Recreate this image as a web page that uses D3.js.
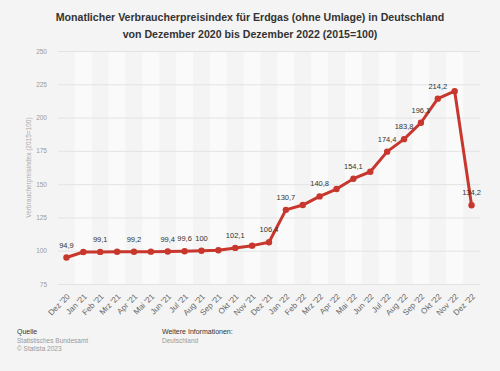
<!DOCTYPE html>
<html>
<head>
<meta charset="utf-8">
<script src="https://cdn.jsdelivr.net/npm/d3@7"></script>
<style>
  html, body { margin: 0; padding: 0; background: #f4f4f4; }
  svg { display: block; font-family: "Liberation Sans", Arial, sans-serif; }
</style>
</head>
<body>
<div id="chart"></div>
<script>
var months = ["Dez '20", "Jan '21", "Feb '21", "Mrz '21", "Apr '21", "Mai '21", "Jun '21", "Jul '21",
    "Aug '21", "Sep '21", "Okt '21", "Nov '21", "Dez '21", "Jan '22", "Feb '22", "Mrz '22",
    "Apr '22", "Mai '22", "Jun '22", "Jul '22", "Aug '22", "Sep '22", "Okt '22", "Nov '22", "Dez '22"];
var values = [94.9, 99.0, 99.1, 99.2, 99.2, 99.3, 99.4, 99.6, 100, 100.3, 102.1, 103.8, 106.4,
    130.7, 134.3, 140.8, 146.3, 154.1, 159.3, 174.4, 183.8, 196.1, 214.2, 219.8, 134.2];
// which points get a value label
var labelled = [0, 2, 4, 6, 7, 8, 10, 12, 13, 15, 17, 19, 20, 21, 22, 24];
var yTicks = [75, 100, 125, 150, 175, 200, 225, 250];

var width = 500, height = 371;
var mLeft = 58, mRight = 480, mTop = 51, mBottom = 284;

var svg = d3.select('#chart').append('svg')
    .attr('width', width)
    .attr('height', height);

svg.append('rect')
    .attr('width', width)
    .attr('height', height)
    .attr('fill', '#f4f4f4');

var x = d3.scaleBand()
    .domain(months)
    .range([mLeft, mRight]);

var y = d3.scaleLinear()
    .domain([75, 250])
    .range([mBottom, mTop]);

// stripes
svg.append('g').selectAll('rect')
    .data(months.filter(function (d, i) { return i % 2 === 1; }))
    .enter()
    .append('rect')
    .attr('x', function (d) { return x(d); })
    .attr('y', mTop)
    .attr('width', x.bandwidth())
    .attr('height', mBottom - mTop)
    .attr('fill', '#fafafa');

// grid + y labels
var yAxis = svg.append('g')
    .attr('transform', 'translate(' + mLeft + ',0)')
    .call(d3.axisLeft(y).tickValues(yTicks).tickSize(-(mRight - mLeft)).tickPadding(11));
yAxis.select('.domain').remove();
yAxis.selectAll('.tick line')
    .attr('stroke', '#e3e3e3')
    .attr('stroke-width', 1);
yAxis.selectAll('.tick text')
    .attr('fill', '#9a9a9a')
    .style('font-size', '6.5px');

svg.append('text')
    .attr('transform', 'translate(29,' + ((mTop + mBottom) / 2) + ') rotate(-90)')
    .attr('text-anchor', 'middle')
    .attr('dy', '0.35em')
    .attr('fill', '#aaa')
    .style('font-size', '6.5px')
    .text('Verbraucherpreisindex (2015=100)');

// x labels
var xAxis = svg.append('g')
    .attr('transform', 'translate(0,' + mBottom + ')')
    .call(d3.axisBottom(x).tickSize(0).tickPadding(0));
xAxis.select('.domain').remove();
xAxis.selectAll('.tick text')
    .attr('text-anchor', 'end')
    .attr('fill', '#666')
    .style('font-size', '8px')
    .attr('y', 0)
    .attr('dy', '0.35em')
    .attr('transform', 'translate(2,11) rotate(-45)');

var cx = function (d, i) { return x(months[i]) + x.bandwidth() / 2; };

var line = d3.line()
    .x(cx)
    .y(function (d) { return y(d); });

svg.append('path')
    .datum(values)
    .attr('d', line)
    .attr('fill', 'none')
    .attr('stroke', '#c8372d')
    .attr('stroke-width', 3)
    .attr('stroke-linejoin', 'round');

svg.append('g').selectAll('circle')
    .data(values)
    .enter()
    .append('circle')
    .attr('cx', cx)
    .attr('cy', function (d) { return y(d); })
    .attr('r', 3.2)
    .attr('fill', '#c8372d');

svg.append('g').selectAll('text')
    .data(labelled)
    .enter()
    .append('text')
    .attr('x', function (i) { return x(months[i]) + x.bandwidth() / 2; })
    .attr('y', function (i) { return y(values[i]) - 10; })
    .attr('text-anchor', 'middle')
    .attr('fill', '#333')
    .style('font-size', '7.5px')
    .text(function (i) { return String(values[i]).replace('.', ','); });

// title
var title = svg.append('g')
    .attr('text-anchor', 'middle')
    .attr('fill', '#333')
    .style('font-size', '10.6px')
    .style('font-weight', 'bold');
title.append('text').attr('x', 250).attr('y', 21)
    .text('Monatlicher Verbraucherpreisindex für Erdgas (ohne Umlage) in Deutschland');
title.append('text').attr('x', 250).attr('y', 38)
    .text('von Dezember 2020 bis Dezember 2022 (2015=100)');

// footer
var foot = svg.append('g').style('font-size', '6.5px');
foot.append('text').attr('x', 17).attr('y', 334).attr('fill', '#333').style('font-size', '7px').text('Quelle');
foot.append('text').attr('x', 17).attr('y', 343).attr('fill', '#999').text('Statistisches Bundesamt');
foot.append('text').attr('x', 17).attr('y', 351).attr('fill', '#999').text('© Statista 2023');
foot.append('text').attr('x', 162).attr('y', 334).attr('fill', '#333').style('font-size', '7px').text('Weitere Informationen:');
foot.append('text').attr('x', 162).attr('y', 343).attr('fill', '#999').text('Deutschland');
</script>
</body>
</html>
